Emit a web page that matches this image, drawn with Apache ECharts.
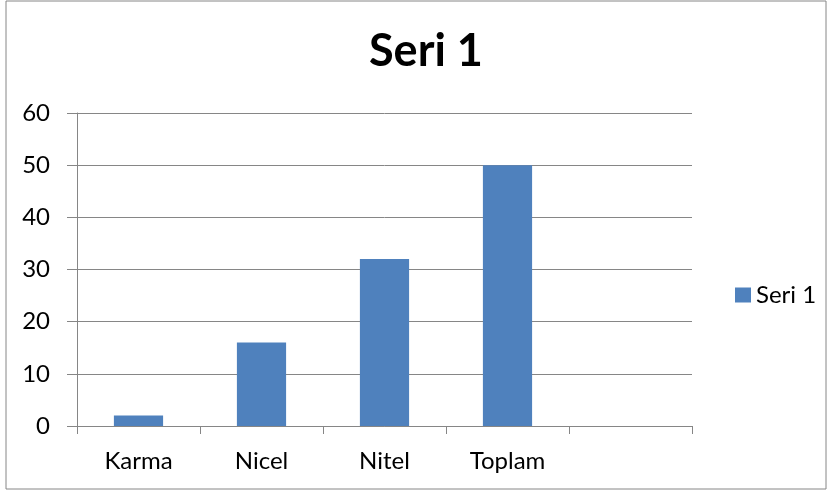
<!DOCTYPE html>
<html>
<head>
<meta charset="utf-8">
<script src="https://cdn.jsdelivr.net/npm/echarts@6/dist/echarts.min.js"></script>
<style>
    * { margin: 0; padding: 0; }
    body { background: #ffffff; }
    #chart { width: 833px; height: 493px; }
</style>
</head>
<body>
<div id="chart"></div>
<script>
    // veriler
    var categories = ['Karma', 'Nicel', 'Nitel', 'Toplam', ''];
    var seri1 = [2, 16, 32, 50, null];
    var seriesName = 'Seri 1';

    var chart = echarts.init(document.getElementById('chart'));
    var option = {
        animation: false,
        textStyle: { fontFamily: 'Lato', color: '#000' },
        title: {
            text: 'Seri 1',
            left: 364,
            top: 24,
            textStyle: { fontFamily: 'Lato', fontWeight: 'bold', fontSize: 45, color: '#000' }
        },
        legend: {
            data: [seriesName],
            left: 730,
            top: 278,
            itemWidth: 16,
            itemHeight: 15,
            itemGap: 10,
            icon: 'rect',
            textStyle: { fontFamily: 'Lato', fontSize: 24, color: '#000' }
        },
        graphic: [{
            type: 'rect',
            shape: { x: 6, y: 1, width: 820, height: 488 },
            style: { fill: 'none', stroke: '#868686', lineWidth: 1 },
            silent: true
        }],
        grid: { left: 77, right: 141, top: 113, bottom: 67 },
        xAxis: {
            type: 'category',
            data: categories,
            axisLine: { lineStyle: { color: '#868686', width: 1 } },
            axisTick: { show: true, length: 8, lineStyle: { color: '#868686' } },
            axisLabel: { fontFamily: 'Lato', fontSize: 24, color: '#000', margin: 23 }
        },
        yAxis: {
            type: 'value',
            min: 0,
            max: 60,
            interval: 10,
            axisLine: { show: true, lineStyle: { color: '#868686', width: 1 } },
            axisTick: { show: true, length: 10, lineStyle: { color: '#868686' } },
            axisLabel: { fontFamily: 'Lato', fontSize: 24, color: '#000', margin: 27 },
            splitLine: { lineStyle: { color: '#868686', width: 1 } }
        },
        series: [{
            name: seriesName,
            type: 'bar',
            data: seri1,
            barWidth: '40%',
            itemStyle: { color: '#4F81BD' }
        }]
    };
    chart.setOption(option);
</script>
</body>
</html>
